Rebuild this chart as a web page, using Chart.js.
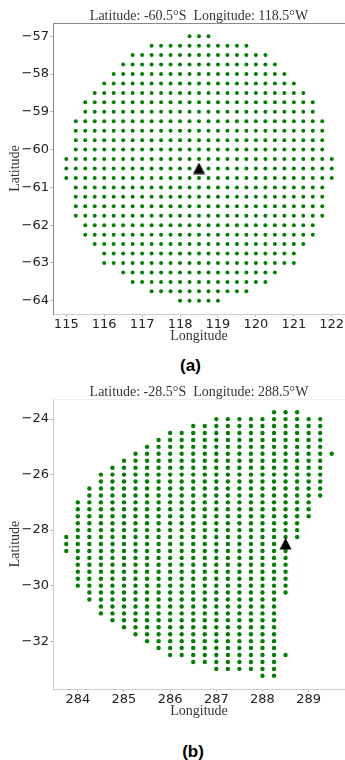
<!DOCTYPE html>
<html>
<head>
<meta charset="utf-8">
<script src="https://cdn.jsdelivr.net/npm/chart.js@4"></script>
<style>
  html, body { margin: 0; padding: 0; background: #fff; }
  body { width: 345px; height: 760px; position: relative; overflow: hidden; }
  canvas { position: absolute; left: 0; }
  #chart-a { top: 0; }
  #chart-b { top: 376px; }
  .caption {
    position: absolute;
    font: bold 17px "Liberation Sans", Arial, sans-serif;
    color: #000;
    transform: translate(-50%, -50%);
  }
</style>
</head>
<body>
<canvas id="chart-a" width="345" height="346"></canvas>
<canvas id="chart-b" width="345" height="345"></canvas>
<div class="caption" style="left:190.5px; top:366px">(a)</div>
<div class="caption" style="left:193px; top:752px">(b)</div>
<script>
// grid spacing of the stations, degrees
const gridStep = 0.25;

// (a) one row per latitude, from / to longitude
const aRowLat = [
  -57, -57.25, -57.5, -57.75, -58, -58.25, -58.5, -58.75, -59, -59.25,
  -59.5, -59.75, -60, -60.25, -60.5, -60.75, -61, -61.25, -61.5, -61.75,
  -62, -62.25, -62.5, -62.75, -63, -63.25, -63.5, -63.75, -64,
];
const aRowLonFrom = [
  118.25, 117.25, 116.75, 116.5, 116.25, 116, 115.75, 115.5, 115.5, 115.25,
  115.25, 115.25, 115.25, 115, 115, 115, 115.25, 115.25, 115.25, 115.25,
  115.5, 115.5, 115.75, 116, 116, 116.5, 116.75, 117.25, 118,
];
const aRowLonTo = [
  118.75, 119.75, 120.25, 120.5, 120.75, 121, 121.25, 121.5, 121.5, 121.75,
  121.75, 121.75, 121.75, 122, 122, 122, 121.75, 121.75, 121.75, 121.75,
  121.5, 121.5, 121.25, 121, 121, 120.5, 120.25, 119.75, 119,
];
const aSiteLon = [118.5];
const aSiteLat = [-60.5];
const aXTicks = [115, 116, 117, 118, 119, 120, 121, 122];
const aYTicks = [-57, -58, -59, -60, -61, -62, -63, -64];

// (b) one column per longitude, top / bottom latitude
const bColLon = [
  283.75, 284, 284.25, 284.5, 284.75, 285, 285.25, 285.5, 285.75, 286,
  286.25, 286.5, 286.75, 287, 287.25, 287.5, 287.75, 288, 288.25, 288.5,
  288.75, 289, 289.25, 289.5,
];
const bColLatTop = [
  -28.25, -27, -26.5, -26, -25.75, -25.5, -25.25, -25, -24.75, -24.5,
  -24.5, -24.25, -24.25, -24, -24, -24, -24, -24, -23.75, -23.75,
  -23.75, -24, -24, -25.25,
];
const bColLatBottom = [
  -28.75, -30, -30.5, -31, -31.25, -31.5, -31.75, -32, -32.25, -32.5,
  -32.5, -32.75, -32.75, -33, -33, -33, -33, -33.25, -33.25, -30.25,
  -28.25, -27.5, -26.75, -25.25,
];
const bExtraLon = [288.5];
const bExtraLat = [-32.5];
const bSiteLon = [288.5];
const bSiteLat = [-28.5];
const bXTicks = [284, 285, 286, 287, 288, 289];
const bYTicks = [-24, -26, -28, -30, -32];

const rowPoints = (lats, from, to) => {
  const pts = [];
  lats.forEach((lat, i) => {
    const n = Math.round((to[i] - from[i]) / gridStep);
    for (let k = 0; k <= n; k++) pts.push({ x: from[i] + k * gridStep, y: lat });
  });
  return pts;
};
const colPoints = (lons, top, bottom) => {
  const pts = [];
  lons.forEach((lon, i) => {
    const n = Math.round((top[i] - bottom[i]) / gridStep);
    for (let k = 0; k <= n; k++) pts.push({ x: lon, y: top[i] - k * gridStep });
  });
  return pts;
};
const pairs = (xs, ys) => xs.map((x, i) => ({ x: x, y: ys[i] }));

// black triangle marker for the station
const siteMarker = document.createElement("canvas");
siteMarker.width = 13;
siteMarker.height = 12;
const mctx = siteMarker.getContext("2d");
mctx.fillStyle = "#000";
mctx.beginPath();
mctx.moveTo(6.5, 0);
mctx.lineTo(12.5, 11.5);
mctx.lineTo(0.5, 11.5);
mctx.closePath();
mctx.fill();

// matplotlib-like 5% margins
const padRange = (lo, hi) => {
  const m = (hi - lo) * 0.05;
  return [lo - m, hi + m];
};

const topLine = {
  id: "topLine",
  afterDraw(chart, args, opts) {
    const { ctx, chartArea } = chart;
    ctx.save();
    ctx.strokeStyle = opts.color;
    ctx.lineWidth = 1;
    ctx.beginPath();
    ctx.moveTo(chartArea.left, Math.round(chartArea.top) + 0.5);
    ctx.lineTo(chartArea.right, Math.round(chartArea.top) + 0.5);
    ctx.stroke();
    ctx.restore();
  },
};

const serif = "'Liberation Serif', 'Times New Roman', serif";
const sans = "'DejaVu Sans', sans-serif";
const minus = (v) => String(v).replace("-", "\u2212");

const makeChart = (canvas, opt) => {
  const [xMin, xMax] = padRange(opt.xLo, opt.xHi);
  const [yMin, yMax] = padRange(opt.yLo, opt.yHi);
  return new Chart(canvas, {
    type: "scatter",
    data: {
      datasets: [
        {
          data: opt.site,
          pointStyle: siteMarker,
          pointRadius: 6,
        },
        {
          data: opt.points,
          backgroundColor: "#008000",
          pointRadius: opt.dot,
          pointBorderWidth: 0,
        },
      ],
    },
    options: {
      responsive: false,
      animation: false,
      events: [],
      layout: { padding: 0, autoPadding: false },
      plugins: {
        legend: { display: false },
        tooltip: { enabled: false },
        title: {
          display: true,
          text: opt.title,
          fullSize: false,
          color: "#333",
          font: { family: serif, size: 14, weight: "normal", lineHeight: 1 },
          padding: { top: 9, bottom: 0 },
        },
        topLine: { color: opt.topColor },
      },
      scales: {
        x: {
          type: "linear",
          min: xMin,
          max: xMax,
          afterFit: (s) => {
            s.height = 32;
            s.paddingLeft = 0;
            s.paddingRight = 0;
          },
          afterBuildTicks: (s) => { s.ticks = opt.xTicks.map((v) => ({ value: v })); },
          ticks: {
            color: "#222",
            font: { family: sans, size: 13 },
            padding: 0,
            maxRotation: 0,
            autoSkip: false,
            callback: minus,
          },
          grid: { drawOnChartArea: false, drawTicks: true, tickLength: 3, color: "#bbb" },
          border: { color: opt.bottomColor },
          title: {
            display: true,
            text: "Longitude",
            color: "#333",
            font: { family: serif, size: 14, lineHeight: 1.2 },
            padding: { top: 0, bottom: 1 },
          },
        },
        y: {
          type: "linear",
          min: yMin,
          max: yMax,
          afterFit: (s) => {
            s.width = 53;
            s.paddingTop = 0;
            s.paddingBottom = 0;
          },
          afterBuildTicks: (s) => { s.ticks = opt.yTicks.map((v) => ({ value: v })); },
          ticks: {
            color: "#222",
            font: { family: sans, size: 13 },
            padding: 1,
            autoSkip: false,
            callback: minus,
          },
          grid: { drawOnChartArea: false, drawTicks: true, tickLength: 3, color: "#bbb" },
          border: { color: opt.leftColor },
          title: {
            display: true,
            text: "Latitude",
            color: "#333",
            font: { family: serif, size: 14, lineHeight: 1.2 },
            padding: { top: 6.6, bottom: 0 },
          },
        },
      },
    },
    plugins: [topLine],
  });
};

makeChart(document.querySelector("#chart-a"), {
  title: "Latitude: -60.5°S  Longitude: 118.5°W",
  points: rowPoints(aRowLat, aRowLonFrom, aRowLonTo),
  site: pairs(aSiteLon, aSiteLat),
  xLo: 115, xHi: 122,
  yLo: -64, yHi: -57,
  xTicks: aXTicks,
  yTicks: aYTicks,
  dot: 2,
  leftColor: "#8a8a8a",
  bottomColor: "#cccccc",
  topColor: "#8a8a8a",
});

makeChart(document.querySelector("#chart-b"), {
  title: "Latitude: -28.5°S  Longitude: 288.5°W",
  points: colPoints(bColLon, bColLatTop, bColLatBottom).concat(pairs(bExtraLon, bExtraLat)),
  site: pairs(bSiteLon, bSiteLat),
  xLo: 283.75, xHi: 289.5,
  yLo: -33.25, yHi: -23.75,
  xTicks: bXTicks,
  yTicks: bYTicks,
  dot: 2.2,
  leftColor: "#cccccc",
  bottomColor: "#cccccc",
  topColor: "#ececec",
});
</script>
</body>
</html>
